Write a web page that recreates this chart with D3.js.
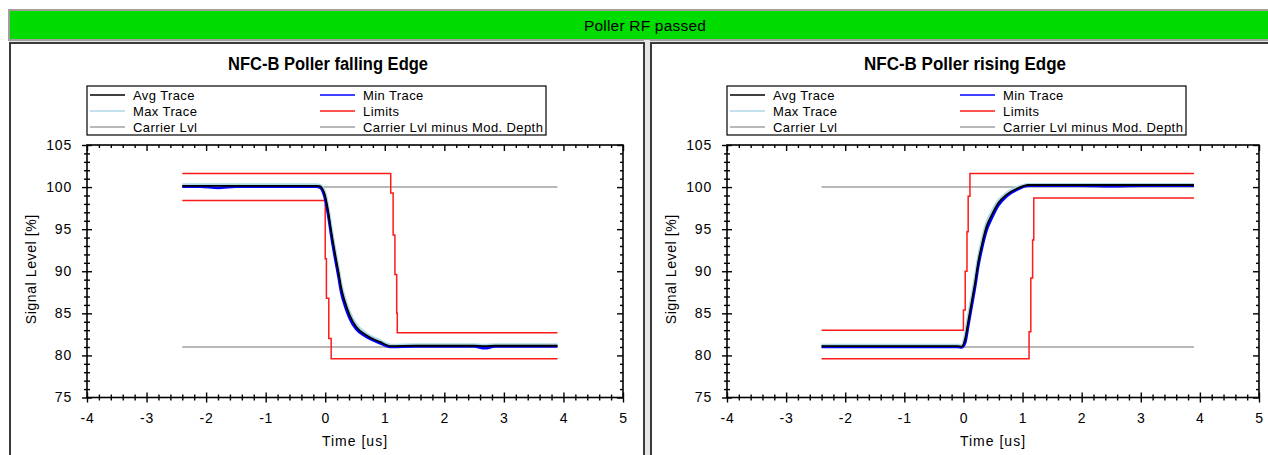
<!DOCTYPE html>
<html>
<head>
<meta charset="utf-8">
<script src="https://cdn.jsdelivr.net/npm/d3@7"></script>
<style>
    body { margin: 0; background: #ffffff; }
    svg text { font-family: "Liberation Sans", Arial, sans-serif; fill: #000; }
</style>
</head>
<body>
<svg id="chart" width="1268" height="455"></svg>
<script>
// ---- data ----
var headerText = "Poller RF passed";
var xTicks = [-4, -3, -2, -1, 0, 1, 2, 3, 4, 5];
var yTicks = [75, 80, 85, 90, 95, 100, 105];
var legendNames = ["Avg Trace", "Min Trace", "Max Trace", "Limits", "Carrier Lvl", "Carrier Lvl minus Mod. Depth"];
var carrierTime = [-2.4, 3.9];
var carrierLvl = [100, 100];
var carrierMinusDepth = [81, 81];

// falling edge
var fallTime = [-2.4, -2.1, -1.8, -1.5, -1.0, -0.5, -0.15, -0.09, 0.0, 0.05, 0.1, 0.16, 0.22, 0.27, 0.33, 0.41, 0.52, 0.69, 0.92, 1.11, 1.5, 2.0, 2.5, 2.68, 2.85, 3.3, 3.9];
var fallAvg = [100.15, 100.15, 100.15, 100.15, 100.15, 100.15, 100.15, 100.1, 98.9, 97.1, 94.8, 92.3, 90.0, 88.0, 86.4, 84.8, 83.4, 82.4, 81.6, 81.1, 81.15, 81.15, 81.15, 81.1, 81.15, 81.15, 81.15];
var fallMin = [100.05, 100.05, 99.9, 100.05, 100.05, 100.05, 100.05, 99.95, 98.5, 96.6, 94.2, 91.7, 89.4, 87.4, 85.9, 84.4, 83.1, 82.2, 81.45, 81.0, 81.05, 81.05, 81.05, 80.85, 81.05, 81.05, 81.05];
var fallMax = [100.3, 100.3, 100.3, 100.3, 100.3, 100.3, 100.3, 100.25, 99.3, 97.6, 95.3, 92.8, 90.5, 88.5, 86.8, 85.2, 83.7, 82.6, 81.8, 81.25, 81.3, 81.3, 81.3, 81.25, 81.3, 81.3, 81.3];
var fallUpperT = [-2.4, 1.10, 1.14, 1.17, 1.20, 1.21, 3.9];
var fallUpperV = [101.6, 99.3, 94.3, 89.6, 85.0, 82.7, 82.7];
var fallLowerT = [-2.4, 0.0, 0.02, 0.06, 0.10, 3.9];
var fallLowerV = [98.4, 91.5, 86.8, 82.0, 79.6, 79.6];

// rising edge
var riseTime = [-2.4, -2.0, -1.5, -1.0, -0.5, -0.1, -0.03, 0.03, 0.08, 0.14, 0.20, 0.25, 0.31, 0.39, 0.48, 0.59, 0.73, 0.90, 1.10, 1.5, 2.0, 2.5, 3.0, 3.5, 3.9];
var riseAvg = [81.1, 81.1, 81.1, 81.1, 81.1, 81.1, 81.05, 82.0, 84.0, 86.4, 88.8, 91.1, 93.1, 95.3, 96.7, 98.1, 99.1, 99.8, 100.25, 100.25, 100.25, 100.25, 100.25, 100.25, 100.25];
var riseMin = [81.0, 81.0, 81.0, 81.0, 81.0, 81.0, 80.95, 81.5, 83.4, 85.8, 88.2, 90.5, 92.6, 94.8, 96.3, 97.8, 98.9, 99.65, 100.15, 100.15, 100.15, 100.1, 100.15, 100.15, 100.15];
var riseMax = [81.25, 81.25, 81.25, 81.25, 81.25, 81.25, 81.2, 82.6, 84.7, 87.1, 89.5, 91.7, 93.7, 95.8, 97.1, 98.4, 99.3, 99.95, 100.35, 100.35, 100.35, 100.35, 100.35, 100.35, 100.35];
var riseUpperT = [-2.4, 0.0, 0.03, 0.06, 0.08, 0.11, 3.9];
var riseUpperV = [83.0, 85.4, 90.0, 94.7, 98.9, 101.6, 101.6];
var riseLowerT = [-2.4, 1.11, 1.14, 1.17, 1.19, 3.9];
var riseLowerV = [79.6, 82.8, 89.2, 93.7, 98.7, 98.7];

var colors = {
    avg: "#000000",
    min: "#0000ff",
    max: "#add8e6",
    limits: "#ff1a1a",
    carrier: "#a0a0a0"
};
var legendColors = [colors.avg, colors.min, colors.max, colors.limits, colors.carrier, colors.carrier];

var svg = d3.select("#chart");

// window background and status bar
svg.append("rect").attr("x", 0).attr("y", 0).attr("width", 1268).attr("height", 455).attr("fill", "#ffffff");
svg.append("rect").attr("x", 9).attr("y", 40).attr("width", 1259).attr("height", 415).attr("fill", "#e6e6e6");
svg.append("rect")
    .attr("x", 9).attr("y", 10).attr("width", 1260).attr("height", 30)
    .attr("fill", "#00dc00")
    .attr("stroke", "#a0a0a0")
    .attr("stroke-width", 2);
svg.append("text")
    .attr("x", 645).attr("y", 30.5)
    .attr("text-anchor", "middle")
    .style("font-size", "15.5px")
    .style("letter-spacing", "0.2px")
    .text(headerText);

function zip(t, v) {
    return t.map(function(d, i) { return [d, v[i]]; });
}

function createPanel(opt) {
    var g = svg.append("g");

    // panel frame
    g.append("rect")
        .attr("x", opt.panelX).attr("y", 43)
        .attr("width", opt.panelW).attr("height", 420)
        .attr("fill", "#ffffff")
        .attr("stroke", "#3a3a3a")
        .attr("stroke-width", 2);

    g.append("text")
        .attr("x", opt.titleX).attr("y", 70)
        .attr("text-anchor", "middle")
        .attr("textLength", opt.titleW)
        .attr("lengthAdjust", "spacingAndGlyphs")
        .style("font-size", "17.5px")
        .style("font-weight", "bold")
        .text(opt.title);

    var x = d3.scaleLinear().domain([-4, 5]).range([opt.plotX0, opt.plotX1]);
    var y = d3.scaleLinear().domain([75, 105]).range([397.5, 145]);
    var xMinor = d3.range(-4, 5.01, 0.2).filter(function(d) { return Math.abs(d - Math.round(d)) > 0.01; });
    var yMinor = d3.range(75, 105.01, 1).filter(function(d) { return d % 5 != 0; });
    var top = y(105), bottom = y(75), left = x(-4), right = x(5);

    // legend
    var lg = g.append("g").attr("transform", "translate(" + opt.plotX0 + ",86)");
    lg.append("rect").attr("width", 459).attr("height", 49)
        .attr("fill", "#ffffff").attr("stroke", "#000").attr("stroke-width", 1.2);
    legendNames.forEach(function(name, i) {
        var col = i % 2, row = Math.floor(i / 2);
        var lx = col == 0 ? 3 : 233, ly = 9 + row * 16;
        lg.append("line")
            .attr("x1", lx).attr("x2", lx + 35).attr("y1", ly).attr("y2", ly)
            .attr("stroke", legendColors[i]).attr("stroke-width", 1.5);
        lg.append("text")
            .attr("x", lx + 43).attr("y", ly + 4.5)
            .style("font-size", "13px")
            .style("letter-spacing", "0.4px")
            .text(name);
    });

    // axes: major and minor ticks crossing the left/bottom lines, inside on top/right
    function styleAxis(sel) {
        sel.select(".domain").remove();
        sel.selectAll("line").attr("stroke", "#000").attr("stroke-width", 1.4);
    }
    var noLabel = function() { return ""; };

    g.append("g").attr("transform", "translate(0," + bottom + ")")
        .call(d3.axisBottom(x).tickValues(xTicks).tickSize(5).tickPadding(11).tickFormat(function(d) { return String(d); }))
        .call(styleAxis)
        .selectAll("text").style("font-size", "14px").style("letter-spacing", "0.8px").style("font-family", "Liberation Sans, Arial, sans-serif");
    g.append("g").attr("transform", "translate(0," + bottom + ")").call(d3.axisTop(x).tickValues(xTicks).tickSize(5).tickFormat(noLabel)).call(styleAxis);
    g.append("g").attr("transform", "translate(0," + bottom + ")").call(d3.axisBottom(x).tickValues(xMinor).tickSize(3).tickFormat(noLabel)).call(styleAxis);
    g.append("g").attr("transform", "translate(0," + bottom + ")").call(d3.axisTop(x).tickValues(xMinor).tickSize(3).tickFormat(noLabel)).call(styleAxis);
    g.append("g").attr("transform", "translate(0," + top + ")").call(d3.axisBottom(x).tickValues(xTicks).tickSize(6).tickFormat(noLabel)).call(styleAxis);
    g.append("g").attr("transform", "translate(0," + top + ")").call(d3.axisBottom(x).tickValues(xMinor).tickSize(3).tickFormat(noLabel)).call(styleAxis);

    g.append("g").attr("transform", "translate(" + left + ",0)")
        .call(d3.axisLeft(y).tickValues(yTicks).tickSize(5).tickPadding(10).tickFormat(function(d) { return String(d); }))
        .call(styleAxis)
        .selectAll("text").style("font-size", "14px").style("letter-spacing", "0.8px").style("font-family", "Liberation Sans, Arial, sans-serif");
    g.append("g").attr("transform", "translate(" + left + ",0)").call(d3.axisRight(y).tickValues(yTicks).tickSize(5).tickFormat(noLabel)).call(styleAxis);
    g.append("g").attr("transform", "translate(" + left + ",0)").call(d3.axisLeft(y).tickValues(yMinor).tickSize(3).tickFormat(noLabel)).call(styleAxis);
    g.append("g").attr("transform", "translate(" + left + ",0)").call(d3.axisRight(y).tickValues(yMinor).tickSize(3).tickFormat(noLabel)).call(styleAxis);
    g.append("g").attr("transform", "translate(" + right + ",0)").call(d3.axisLeft(y).tickValues(yTicks).tickSize(6).tickFormat(noLabel)).call(styleAxis);
    g.append("g").attr("transform", "translate(" + right + ",0)").call(d3.axisLeft(y).tickValues(yMinor).tickSize(3).tickFormat(noLabel)).call(styleAxis);

    g.append("rect")
        .attr("x", left).attr("y", top)
        .attr("width", right - left).attr("height", bottom - top)
        .attr("fill", "none").attr("stroke", "#000").attr("stroke-width", 1.6);

    // axis titles
    g.append("text")
        .attr("transform", "translate(" + (left - 51) + "," + ((top + bottom) / 2 - 2) + ") rotate(-90)")
        .attr("text-anchor", "middle")
        .style("font-size", "14px")
        .style("letter-spacing", "0.6px")
        .text("Signal Level [%]");
    g.append("text")
        .attr("x", (left + right) / 2).attr("y", 446)
        .attr("text-anchor", "middle")
        .style("font-size", "14px")
        .style("letter-spacing", "1px")
        .text("Time [us]");

    // series
    var line = d3.line().x(function(d) { return x(d[0]); }).y(function(d) { return y(d[1]); });
    var step = d3.line().x(function(d) { return x(d[0]); }).y(function(d) { return y(d[1]); }).curve(d3.curveStepAfter);
    var smooth = d3.line().x(function(d) { return x(d[0]); }).y(function(d) { return y(d[1]); }).curve(d3.curveMonotoneX);

    var series = g.append("g");
    series.append("path").attr("d", line(zip(carrierTime, carrierLvl)))
        .attr("fill", "none").attr("stroke", colors.carrier).attr("stroke-width", 1.5);
    series.append("path").attr("d", line(zip(carrierTime, carrierMinusDepth)))
        .attr("fill", "none").attr("stroke", colors.carrier).attr("stroke-width", 1.5);
    series.append("path").attr("d", step(zip(opt.upperT, opt.upperV)))
        .attr("fill", "none").attr("stroke", colors.limits).attr("stroke-width", 1.5);
    series.append("path").attr("d", step(zip(opt.lowerT, opt.lowerV)))
        .attr("fill", "none").attr("stroke", colors.limits).attr("stroke-width", 1.5);
    series.append("path").attr("d", smooth(zip(opt.time, opt.max)))
        .attr("fill", "none").attr("stroke", colors.max).attr("stroke-width", 2.5);
    series.append("path").attr("d", smooth(zip(opt.time, opt.min)))
        .attr("fill", "none").attr("stroke", colors.min).attr("stroke-width", 2.5);
    series.append("path").attr("d", smooth(zip(opt.time, opt.avg)))
        .attr("fill", "none").attr("stroke", colors.avg).attr("stroke-width", 1.8);
}

// gap between the two panels
svg.append("rect").attr("x", 644).attr("y", 40).attr("width", 6).attr("height", 415).attr("fill", "#e6e6e6");

createPanel({
    panelX: 10, panelW: 634, titleX: 328, titleW: 200,
    title: "NFC-B Poller falling Edge",
    plotX0: 87, plotX1: 623,
    time: fallTime, avg: fallAvg, min: fallMin, max: fallMax,
    upperT: fallUpperT, upperV: fallUpperV, lowerT: fallLowerT, lowerV: fallLowerV
});
createPanel({
    panelX: 651, panelW: 630, titleX: 965, titleW: 202,
    title: "NFC-B Poller rising Edge",
    plotX0: 727, plotX1: 1259,
    time: riseTime, avg: riseAvg, min: riseMin, max: riseMax,
    upperT: riseUpperT, upperV: riseUpperV, lowerT: riseLowerT, lowerV: riseLowerV
});
</script>
</body>
</html>
